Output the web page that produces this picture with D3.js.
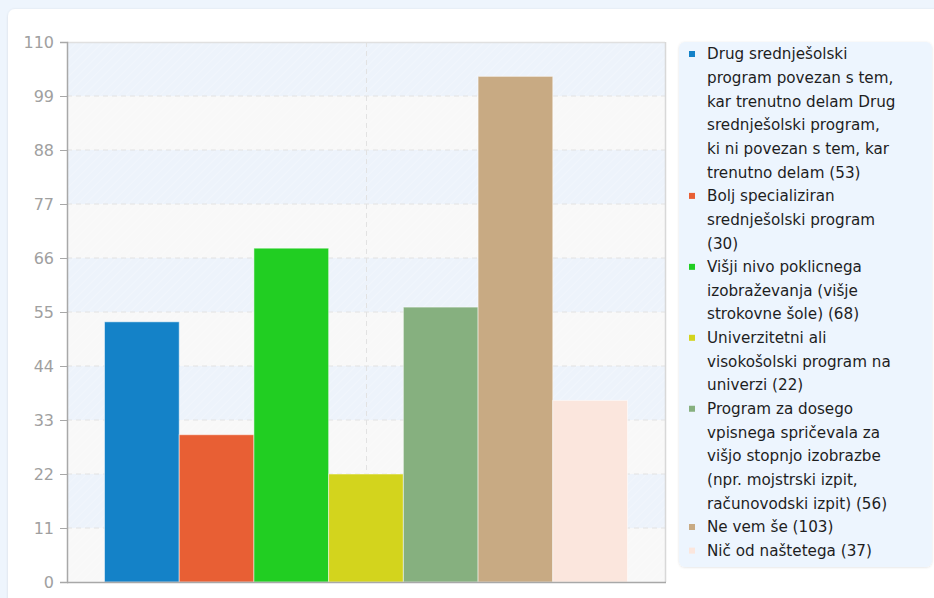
<!DOCTYPE html>
<html><head><meta charset="utf-8">
<script src="https://cdn.jsdelivr.net/npm/d3@7/dist/d3.min.js"></script>
<style>
html,body{margin:0;padding:0;background:#eef5fd;}
svg{display:block;font-family:"DejaVu Sans",sans-serif;}
</style></head>
<body>
<svg id="c" width="934" height="598"></svg>
<script>
const categories = [
  "Drug srednješolski program povezan s tem, kar trenutno delam Drug srednješolski program, ki ni povezan s tem, kar trenutno delam",
  "Bolj specializiran srednješolski program",
  "Višji nivo poklicnega izobraževanja (višje strokovne šole)",
  "Univerzitetni ali visokošolski program na univerzi",
  "Program za dosego vpisnega spričevala za višjo stopnjo izobrazbe (npr. mojstrski izpit, računovodski izpit)",
  "Ne vem še",
  "Nič od naštetega"
];
const values = [53, 30, 68, 22, 56, 103, 37];
const colors = ["#1482c8", "#e85f34", "#21ce22", "#d3d41d", "#86b07f", "#c8aa83", "#fbe6dd"];
const legendLines = [
  ["Drug srednješolski", "program povezan s tem,", "kar trenutno delam Drug", "srednješolski program,", "ki ni povezan s tem, kar", "trenutno delam (53)"],
  ["Bolj specializiran", "srednješolski program", "(30)"],
  ["Višji nivo poklicnega", "izobraževanja (višje", "strokovne šole) (68)"],
  ["Univerzitetni ali", "visokošolski program na", "univerzi (22)"],
  ["Program za dosego", "vpisnega spričevala za", "višjo stopnjo izobrazbe", "(npr. mojstrski izpit,", "računovodski izpit) (56)"],
  ["Ne vem še (103)"],
  ["Nič od naštetega (37)"]
];
const yTicks = [0, 11, 22, 33, 44, 55, 66, 77, 88, 99, 110];

const svg = d3.select("#c");
const defs = svg.append("defs");
const pat = defs.append("pattern").attr("id","hatch").attr("patternUnits","userSpaceOnUse")
  .attr("width",6).attr("height",6).attr("patternTransform","rotate(45)");
pat.append("line").attr("x1",0).attr("y1",0).attr("x2",0).attr("y2",6)
  .attr("stroke","#ffffff").attr("stroke-width",1.2).attr("stroke-opacity",0.35);
const sh = defs.append("filter").attr("id","sh").attr("x","-5%").attr("y","-5%").attr("width","110%").attr("height","110%");
sh.append("feDropShadow").attr("dx",0).attr("dy",0.5).attr("stdDeviation",1).attr("flood-color","#000").attr("flood-opacity",0.12);

// card
svg.append("rect").attr("x",8).attr("y",9).attr("width",940).attr("height",600).attr("rx",7)
  .attr("fill","#fff").attr("filter","url(#sh)");

const L = 67, R = 665, T = 42, B = 582;
const y = d3.scaleLinear().domain([0,110]).range([B,T]);
const x = d3.scaleBand().domain(["g"]).range([L,R]).paddingInner(0).paddingOuter(0.0717);
const xs = d3.scaleBand().domain(d3.range(values.length)).range([x("g"), x("g")+x.bandwidth()]).padding(0);

// bands
const g = svg.append("g");
for (let i = 0; i < yTicks.length-1; i++) {
  const y0 = y(yTicks[i]), y1 = y(yTicks[i+1]);
  g.append("rect").attr("x",L).attr("y",y1).attr("width",R-L).attr("height",y0-y1)
    .attr("fill", i % 2 === 1 ? "#edf3fb" : "#f8f8f8");
}
g.append("rect").attr("x",L).attr("y",T).attr("width",R-L).attr("height",B-T).attr("fill","url(#hatch)");

// grid lines
g.selectAll(".hg").data(yTicks.slice(1,-1)).join("line")
  .attr("x1",L).attr("x2",R).attr("y1",d=>y(d)).attr("y2",d=>y(d))
  .attr("stroke","#e2e2e2").attr("stroke-width",1).attr("stroke-dasharray","5,4");
const xc = x("g") + x.bandwidth()/2;
g.append("line").attr("x1",Math.round(xc)+0.5).attr("x2",Math.round(xc)+0.5).attr("y1",T).attr("y2",B)
  .attr("stroke","#e2e2e2").attr("stroke-dasharray","5,4");
// top & right border
g.append("line").attr("x1",L).attr("x2",R).attr("y1",T+0.5).attr("y2",T+0.5).attr("stroke","#e0e0e0").attr("stroke-width",1.5);
g.append("line").attr("x1",R+0.5).attr("x2",R+0.5).attr("y1",T).attr("y2",B).attr("stroke","#d8d8d8").attr("stroke-width",1.5);

// bars
svg.append("g").selectAll("rect").data(values).join("rect")
  .attr("x",(d,i)=>xs(i)).attr("width",xs.bandwidth())
  .attr("y",d=>y(d)).attr("height",d=>B-y(d))
  .attr("fill",(d,i)=>colors[i]).attr("stroke","#ffffff").attr("stroke-opacity",0.5).attr("stroke-width",1);

// axes
const ya = svg.append("g").attr("transform",`translate(${L},0)`)
  .call(d3.axisLeft(y).tickValues(yTicks).tickSize(7).tickPadding(6));
ya.attr("font-size", 16).attr("font-family", "DejaVu Sans");
ya.select(".domain").attr("stroke","#a8a8a8").attr("stroke-width",1.5);
ya.selectAll(".tick line").attr("stroke","#a8a8a8");
ya.selectAll(".tick text").attr("fill","#a0a0a0").attr("font-size", 16);
svg.append("line").attr("x1",L).attr("x2",R+1).attr("y1",B+0.5).attr("y2",B+0.5).attr("stroke","#a8a8a8").attr("stroke-width",1.5);

// legend
svg.append("rect").attr("x",679).attr("y",42).attr("width",253).attr("height",525).attr("rx",6)
  .attr("fill","#edf5fe").attr("filter","url(#sh)");
const lg = svg.append("g");
let line = 0;
const lh = 23.65, ly0 = 54;
legendLines.forEach((lines, i) => {
  lg.append("rect").attr("x",689).attr("y",ly0 + line*lh - 3).attr("width",6).attr("height",6).attr("fill",colors[i]);
  const t = lg.append("text").attr("x",707).attr("fill","#1e1e1e").style("font-size","15.2px");
  lines.forEach((s, j) => {
    t.append("tspan").attr("x",707).attr("y",ly0 + (line+j)*lh).attr("dy","0.35em").text(s);
  });
  line += lines.length;
});
</script>
</body></html>
